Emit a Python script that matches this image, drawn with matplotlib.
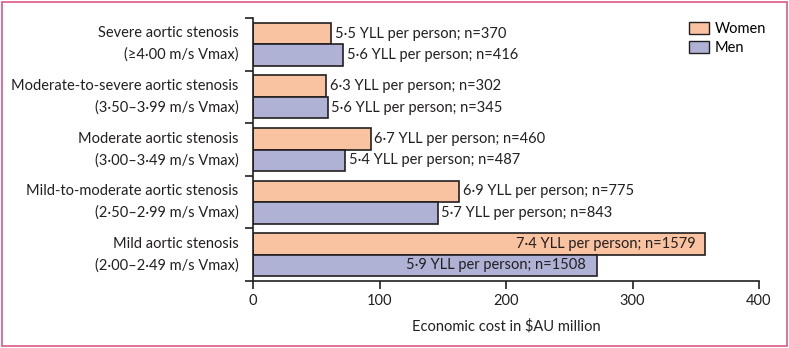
import matplotlib.pyplot as plt
from matplotlib.patches import Rectangle, Patch
import matplotlib.transforms as mtransforms
import numpy as np

plt.rcParams['font.family'] = ['Lato', 'DejaVu Sans']

# Data (economic cost in $AU million)
categories = ["Severe aortic stenosis\n(≥4·00 m/s Vmax)",
              "Moderate-to-severe aortic stenosis\n(3·50–3·99 m/s Vmax)",
              "Moderate aortic stenosis\n(3·00–3·49 m/s Vmax)",
              "Mild-to-moderate aortic stenosis\n(2·50–2·99 m/s Vmax)",
              "Mild aortic stenosis\n(2·00–2·49 m/s Vmax)"]
women_cost = [62, 58, 93, 163, 357]
men_cost = [71, 59, 73, 146, 272]
women_labels = ["5·5 YLL per person; n=370", "6·3 YLL per person; n=302",
                "6·7 YLL per person; n=460", "6·9 YLL per person; n=775",
                "7·4 YLL per person; n=1579"]
men_labels = ["5·6 YLL per person; n=416", "5·6 YLL per person; n=345",
              "5·4 YLL per person; n=487", "5·7 YLL per person; n=843",
              "5·9 YLL per person; n=1508"]
inside = [False, False, False, False, True]

women_col = '#F9C2A0'
men_col = '#AFB2D5'
edge = '#231F20'

fig = plt.figure(figsize=(7.89, 3.48), dpi=100)
ax = fig.add_axes([253/789, 1-281/348, 506/789, 263/348])

y = np.arange(len(categories))
h = 0.41
ax.barh(y - h/2, women_cost, height=h, color=women_col, edgecolor=edge, linewidth=1.2, label='Women')
ax.barh(y + h/2, men_cost, height=h, color=men_col, edgecolor=edge, linewidth=1.2, label='Men')

fs = 10.5
for i in range(len(categories)):
    if inside[i]:
        ax.text(women_cost[i] - 7, y[i] - h/2, women_labels[i], ha='right', va='center', fontsize=fs, color='#231F20')
        ax.text(men_cost[i] - 9, y[i] + h/2, men_labels[i], ha='right', va='center', fontsize=fs, color='#231F20')
    else:
        ax.text(women_cost[i] + 3, y[i] - h/2, women_labels[i], ha='left', va='center', fontsize=fs, color='#231F20')
        ax.text(men_cost[i] + 3, y[i] + h/2, men_labels[i], ha='left', va='center', fontsize=fs, color='#231F20')

trans = mtransforms.blended_transform_factory(ax.transAxes, ax.transData)
for i, c in enumerate(categories):
    ax.text(-0.029, y[i], c, transform=trans, ha='right', va='center', fontsize=fs,
            multialignment='right', linespacing=1.65, color='#231F20')

ax.set_xlim(0, 400)
ax.set_ylim(4.5, -0.5)
ax.set_xticks([0, 100, 200, 300, 400])
ax.set_yticks(np.arange(-0.5, 5, 1))
ax.set_yticklabels([])
ax.tick_params(axis='both', direction='out', length=6, width=1.2, color=edge, labelsize=fs, labelcolor='#231F20')
for s in ['top', 'right']:
    ax.spines[s].set_visible(False)
for s in ['left', 'bottom']:
    ax.spines[s].set_linewidth(1.2)
    ax.spines[s].set_color(edge)
ax.set_xlabel("Economic cost in \\$AU million", fontsize=fs, color='#231F20', labelpad=8)

handles = [Patch(facecolor=women_col, edgecolor=edge, label='Women'),
           Patch(facecolor=men_col, edgecolor=edge, label='Men')]
fig.legend(handles=handles, loc='upper right', bbox_to_anchor=(0.988, 0.975), frameon=False,
           fontsize=fs, handlelength=1.4, handleheight=0.9, handletextpad=0.4, labelspacing=0.35)

fig.patches.append(Rectangle((0.003, 0.005), 0.994, 0.99, transform=fig.transFigure,
                             fill=False, edgecolor='#E0668F', linewidth=1.3))

fig.savefig('out.png', dpi=100)
